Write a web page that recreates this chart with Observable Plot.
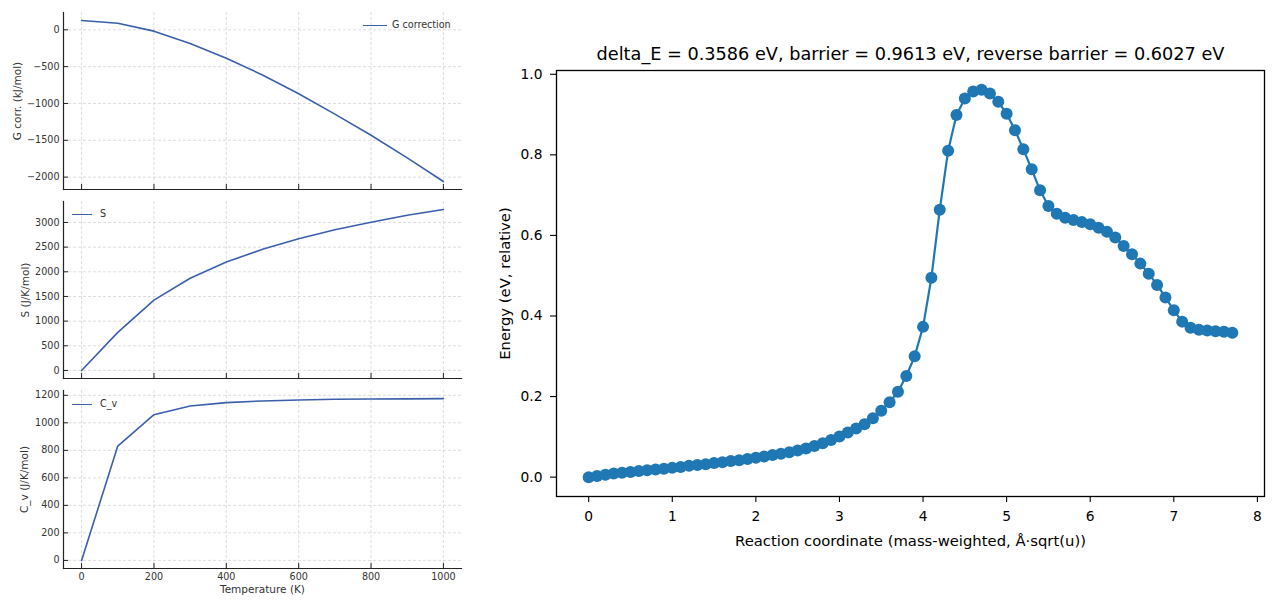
<!DOCTYPE html>
<html><head><meta charset="utf-8">
<script src="https://cdn.jsdelivr.net/npm/d3@7"></script>
<script src="https://cdn.jsdelivr.net/npm/@observablehq/plot@0.6"></script>
<style>
body{margin:0;background:#fff;font-family:"DejaVu Sans",sans-serif;}
#wrap{position:relative;width:1280px;height:607px;overflow:hidden;background:#fff;}
.pane{position:absolute;}
.leg{position:absolute;font:9.6px "DejaVu Sans";color:#333;display:flex;align-items:center;white-space:nowrap;height:12px;line-height:12px;}
.leg .ln{display:inline-block;border-top:1.6px solid #3b5fab;}
</style></head><body><div id="wrap"></div>
<script>
// ---- Thermochemistry panels (left) ----
const temperature = [0, 100, 200, 300, 400, 500, 600, 700, 800, 900, 1000];
const gCorrection = [126, 90, -18, -185, -387, -613, -869, -1144, -1432, -1739, -2059];
const entropy = [0, 773, 1426, 1870, 2199, 2455, 2670, 2851, 3006, 3147, 3262];
const heatCapacity = [0, 831, 1059, 1122, 1147, 1159, 1166, 1171, 1173, 1174, 1176];
const tempTicks = [0, 200, 400, 600, 800, 1000];
const gTicks = [-2000, -1500, -1000, -500, 0];
const sTicks = [0, 500, 1000, 1500, 2000, 2500, 3000];
const cvTicks = [0, 200, 400, 600, 800, 1000, 1200];

// ---- Reaction path (right) ----
const coord = [0.0,0.1,0.2,0.3,0.4,0.5,0.6,0.7,0.8,0.9,1.0,1.1,1.2,1.3,1.4,1.5,1.6,1.7,1.8,1.9,
  2.0,2.1,2.2,2.3,2.4,2.5,2.6,2.7,2.8,2.9,3.0,3.1,3.2,3.3,3.4,3.5,3.6,3.7,3.8,3.9,
  4.0,4.1,4.2,4.3,4.4,4.5,4.6,4.7,4.8,4.9,5.0,5.1,5.2,5.3,5.4,5.5,5.6,5.7,5.8,5.9,
  6.0,6.1,6.2,6.3,6.4,6.5,6.6,6.7,6.8,6.9,7.0,7.1,7.2,7.3,7.4,7.5,7.6,7.7];
const energy = [0.000,0.003,0.006,0.009,0.011,0.013,0.015,0.017,0.019,0.021,
  0.023,0.025,0.028,0.030,0.032,0.035,0.037,0.040,0.042,0.045,
  0.048,0.051,0.055,0.058,0.062,0.066,0.071,0.077,0.084,0.092,
  0.101,0.111,0.121,0.131,0.146,0.165,0.186,0.212,0.251,0.300,
  0.373,0.495,0.664,0.810,0.899,0.940,0.957,0.9613,0.952,0.932,
  0.902,0.861,0.814,0.764,0.712,0.673,0.654,0.644,0.638,0.633,
  0.628,0.619,0.609,0.595,0.574,0.553,0.530,0.505,0.477,0.446,
  0.414,0.386,0.371,0.366,0.364,0.362,0.361,0.3586];
const coordTicks = [0, 1, 2, 3, 4, 5, 6, 7, 8];
const energyTicks = [0.0, 0.2, 0.4, 0.6, 0.8, 1.0];
const title = "delta_E = 0.3586 eV, barrier = 0.9613 eV, reverse barrier = 0.6027 eV";

const wrap = document.getElementById("wrap");
const minus = d => d < 0 ? "\u2212" + Math.abs(d) : String(d);

function leftPanel(o) {
  const W = 470, ml = 63, mr = 9;
  const fh = o.height - o.mt - o.mb, fw = W - ml - mr;
  const data = temperature.map((t, i) => ({t, v: o.values[i]}));
  const gridStyle = {stroke: "#d6d6d6", strokeOpacity: 1, strokeDasharray: "3,2", strokeWidth: 0.8};
  const svg = Plot.plot({
    width: W, height: o.height,
    marginLeft: ml, marginRight: mr, marginTop: o.mt, marginBottom: o.mb,
    x: {domain: [-50, 1050], axis: null},
    y: {domain: o.yDomain, axis: null},
    style: {fontFamily: "DejaVu Sans", fontSize: "9.6px", color: "#333", background: "transparent", overflow: "visible"},
    marks: [
      Plot.gridX(tempTicks, gridStyle),
      Plot.gridY(o.yTicks, gridStyle),
      Plot.line(data, {x: "t", y: "v", stroke: "#3b5fab", strokeWidth: 1.6}),
      Plot.tickX(tempTicks, {x: d => d, insetTop: fh - 5, stroke: "#222", strokeWidth: 1}),
      Plot.tickY(o.yTicks, {y: d => d, insetRight: fw - 5, stroke: "#222", strokeWidth: 1}),
      Plot.axisY(o.yTicks, {tickSize: 0, tickPadding: 4, tickFormat: minus, label: null, fontSize: 9.6, fill: "#333"}),
      o.showX ? Plot.axisX(tempTicks, {tickSize: 0, tickPadding: 5, tickFormat: d => String(d), label: null, fontSize: 9.6, fill: "#333"}) : null,
      Plot.frame({anchor: "left", stroke: "#222", strokeWidth: 1.2}),
      Plot.frame({anchor: "bottom", stroke: "#222", strokeWidth: 1.2}),
      Plot.text([o.yLabel], {frameAnchor: "left", text: d => d, rotate: -90, textAnchor: "middle", lineAnchor: "middle", dx: o.labelDx, fontSize: 10.5, fill: "#333"}),
      o.showX ? Plot.text(["Temperature (K)"], {frameAnchor: "bottom", text: d => d, textAnchor: "middle", lineAnchor: "middle", dy: 21, fontSize: 10.5, fill: "#333"}) : null
    ]
  });
  svg.classList.add("pane");
  svg.style.left = "0px";
  svg.style.top = o.top + "px";
  wrap.appendChild(svg);
}

function legend(label, left, top, lineW, gap) {
  const d = document.createElement("div");
  d.className = "leg";
  d.style.left = left + "px";
  d.style.top = top + "px";
  const ln = document.createElement("span");
  ln.className = "ln";
  ln.style.width = lineW + "px";
  ln.style.marginRight = gap + "px";
  d.appendChild(ln);
  d.appendChild(document.createTextNode(label));
  wrap.appendChild(d);
}

leftPanel({values: gCorrection, yDomain: [-2168, 235], yTicks: gTicks, yLabel: "G corr. (kJ/mol)",
  top: 0, height: 195, mt: 12, mb: 6, labelDx: -46, showX: false});
leftPanel({values: entropy, yDomain: [-163, 3425], yTicks: sTicks, yLabel: "S (J/K/mol)",
  top: 195, height: 190, mt: 6, mb: 7, labelDx: -38, showX: false});
leftPanel({values: heatCapacity, yDomain: [-58.8, 1234.8], yTicks: cvTicks, yLabel: "C_v (J/K/mol)",
  top: 385, height: 222, mt: 5, mb: 39, labelDx: -38.5, showX: true});

legend("G correction", 363, 19, 24, 5);
legend("S", 72, 208, 20, 8);
legend("C_v", 72, 398, 20, 8);

// right chart
const path = coord.map((c, i) => ({c, e: energy[i]}));
const right = Plot.plot({
  width: 800, height: 607,
  marginLeft: 76, marginRight: 16, marginTop: 70, marginBottom: 111,
  x: {domain: [-0.385, 8.085], axis: null},
  y: {domain: [-0.048065, 1.009365], axis: null},
  style: {fontFamily: "DejaVu Sans", fontSize: "13.8px", color: "#000", background: "transparent", overflow: "visible"},
  marks: [
    Plot.line(path, {x: "c", y: "e", stroke: "#1f77b4", strokeWidth: 2.2}),
    Plot.dot(path, {x: "c", y: "e", r: 6, fill: "#1f77b4", stroke: "none"}),
    Plot.axisX(coordTicks, {tickSize: 6, tickPadding: 9, tickFormat: d => String(d), label: null, fontSize: 13.8, stroke: "#000", strokeWidth: 1.1}),
    Plot.axisY(energyTicks, {tickSize: 6, tickPadding: 8, tickFormat: d3.format(".1f"), label: null, fontSize: 13.8, stroke: "#000", strokeWidth: 1.1}),
    Plot.frame({stroke: "#000", strokeWidth: 1.3}),
    Plot.text([title], {frameAnchor: "top", text: d => d, textAnchor: "middle", dy: -11, lineAnchor: "bottom", fontSize: 17.7}),
    Plot.text(["Reaction coordinate (mass-weighted, Å·sqrt(u))"], {frameAnchor: "bottom", text: d => d, textAnchor: "middle", lineAnchor: "middle", dy: 44.5, fontSize: 14.8}),
    Plot.text(["Energy (eV, relative)"], {frameAnchor: "left", text: d => d, rotate: -90, textAnchor: "middle", lineAnchor: "middle", dx: -51, fontSize: 14.8})
  ]
});
right.classList.add("pane");
right.style.left = "480px";
right.style.top = "0px";
wrap.appendChild(right);
</script></body></html>
